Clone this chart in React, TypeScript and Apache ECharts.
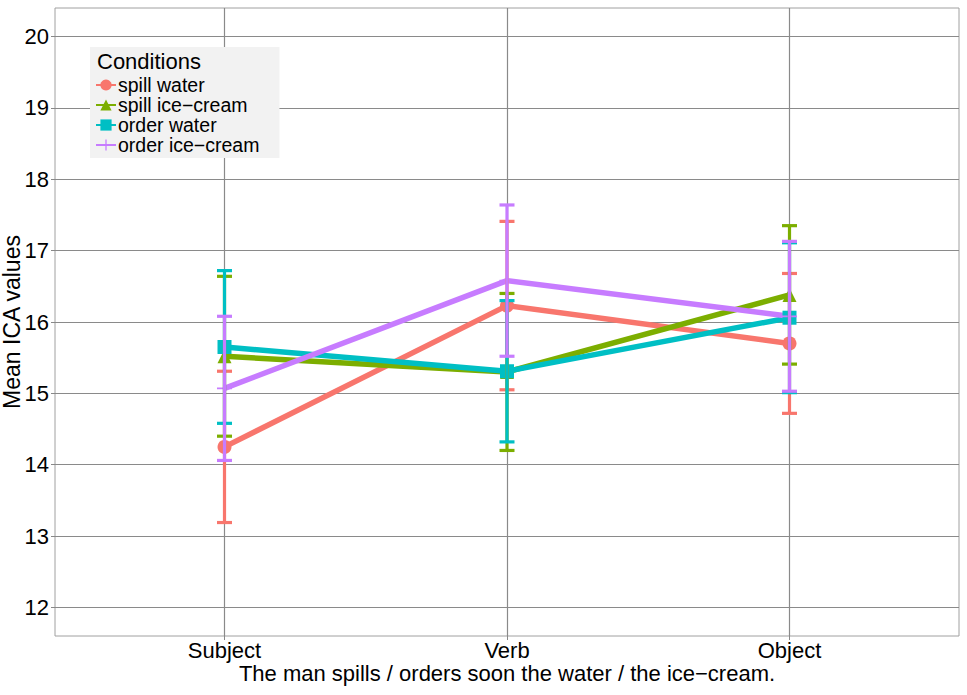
import React, { useEffect, useRef } from "react";
import * as echarts from "echarts";

const categories = ["Subject", "Verb", "Object"];
const seriesNames = ["spill water", "spill ice\u2212cream", "order water", "order ice\u2212cream"];
const spillWater = [14.25, 16.23, 15.7];
const spillWaterErr = [1.06, 1.18, 0.98];
const spillIce = [15.52, 15.3, 16.38];
const spillIceErr = [1.12, 1.1, 0.97];
const orderWater = [15.65, 15.31, 16.06];
const orderWaterErr = [1.07, 0.99, 1.05];
const orderIce = [15.07, 16.58, 16.08];
const orderIceErr = [1.01, 1.06, 1.05];
const yTicks = [12, 13, 14, 15, 16, 17, 18, 19, 20];
const xTicks = [1, 2, 3];

const colors = ["#F8766D", "#7CAE00", "#00BFC4", "#C77CFF"];
const symbols = [
  "circle",
  "triangle",
  "rect",
  "path://M0,6.2H14V7.8H0Z M6.2,0H7.8V14H6.2Z",
];
const FONT = "'Liberation Sans', Arial, Helvetica, sans-serif";

export default function App() {
  const ref = useRef<HTMLDivElement>(null);
  useEffect(() => {
    if (!ref.current) return;
    const chart = echarts.init(ref.current, null, { renderer: "svg" });
    const means = [spillWater, spillIce, orderWater, orderIce];
    const errs = [spillWaterErr, spillIceErr, orderWaterErr, orderIceErr];

    const lineSeries = means.map((m, i) => ({
      name: seriesNames[i],
      type: "line",
      data: m.map((v, j) => [xTicks[j], v]),
      symbol: symbols[i],
      symbolSize: i === 3 ? 15 : 14,
      showSymbol: true,
      lineStyle: { color: colors[i], width: 5.5 },
      itemStyle: { color: colors[i] },
      z: 3,
    }));
    const errSeries = means.map((m, i) => ({
      name: seriesNames[i] + " error",
      type: "custom",
      data: m.map((v, j) => [xTicks[j], v - errs[i][j], v + errs[i][j]]),
      z: 4,
      renderItem: (params: any, api: any) => {
        const x = api.value(0);
        const lo = api.coord([x, api.value(1)]);
        const hi = api.coord([x, api.value(2)]);
        const hw = 7.5;
        const style = { stroke: colors[i], lineWidth: 3.2 };
        return {
          type: "group",
          children: [
            { type: "line", shape: { x1: lo[0], y1: lo[1], x2: hi[0], y2: hi[1] }, style },
            { type: "line", shape: { x1: lo[0] - hw, y1: lo[1], x2: lo[0] + hw, y2: lo[1] }, style },
            { type: "line", shape: { x1: hi[0] - hw, y1: hi[1], x2: hi[0] + hw, y2: hi[1] }, style },
          ],
        };
      },
    }));

    chart.setOption({
      animation: false,
      textStyle: { fontFamily: FONT },
      grid: {
        left: 55,
        top: 8,
        right: 8,
        bottom: 59,
        outerBoundsMode: "none",
        containLabel: false,
        show: true,
        borderColor: "#a0a0a0",
        borderWidth: 1,
        backgroundColor: "#ffffff",
      },
      legend: {
        data: seriesNames,
        orient: "vertical",
        left: 90,
        top: 47,
        backgroundColor: "#f2f2f2",
        padding: [28, 20, 3, 5],
        itemGap: 0,
        itemWidth: 20,
        itemHeight: 14,
        textStyle: { fontSize: 19.5, color: "#000", fontFamily: FONT, padding: [0, 0, 0, -3] },
      },
      graphic: [
        {
          type: "text",
          left: 97,
          top: 50,
          style: { text: "Conditions", fontSize: 22, fill: "#000", fontFamily: FONT },
          z: 10,
        },
      ],
      xAxis: {
        type: "value",
        min: 0.4,
        max: 3.6,
        name: "The man spills / orders soon the water / the ice\u2212cream.",
        nameLocation: "middle",
        nameGap: 26,
        nameMoveOverlap: false,
        nameTextStyle: { fontSize: 22, color: "#000", fontFamily: FONT },
        axisLine: { show: false },
        axisTick: { show: true, length: 4, customValues: xTicks, lineStyle: { color: "#888" } },
        axisLabel: {
          customValues: xTicks,
          fontSize: 22,
          color: "#000",
          margin: 3,
          fontFamily: FONT,
          formatter: (v: number) => categories[Math.round(v) - 1] ?? "",
        },
        splitLine: { show: true, lineStyle: { color: "#8a8a8a", width: 1.2 } },
      },
      yAxis: {
        type: "value",
        min: 11.6,
        max: 20.4,
        name: "Mean ICA values",
        nameLocation: "middle",
        nameGap: 32,
        nameMoveOverlap: false,
        nameRotate: 90,
        nameTextStyle: { fontSize: 23, color: "#000", fontFamily: FONT },
        axisLine: { show: false },
        axisTick: { show: true, length: 4, customValues: yTicks, lineStyle: { color: "#888" } },
        axisLabel: { customValues: yTicks, fontSize: 22, color: "#000", margin: 6, fontFamily: FONT },
        splitLine: { show: true, lineStyle: { color: "#8a8a8a", width: 1.2 } },
      },
      series: [...lineSeries, ...errSeries],
    });
    return () => chart.dispose();
  }, []);
  return (
    <div
      ref={ref}
      style={{ position: "fixed", left: 0, top: 0, width: 967, height: 695, background: "#fff" }}
    />
  );
}
